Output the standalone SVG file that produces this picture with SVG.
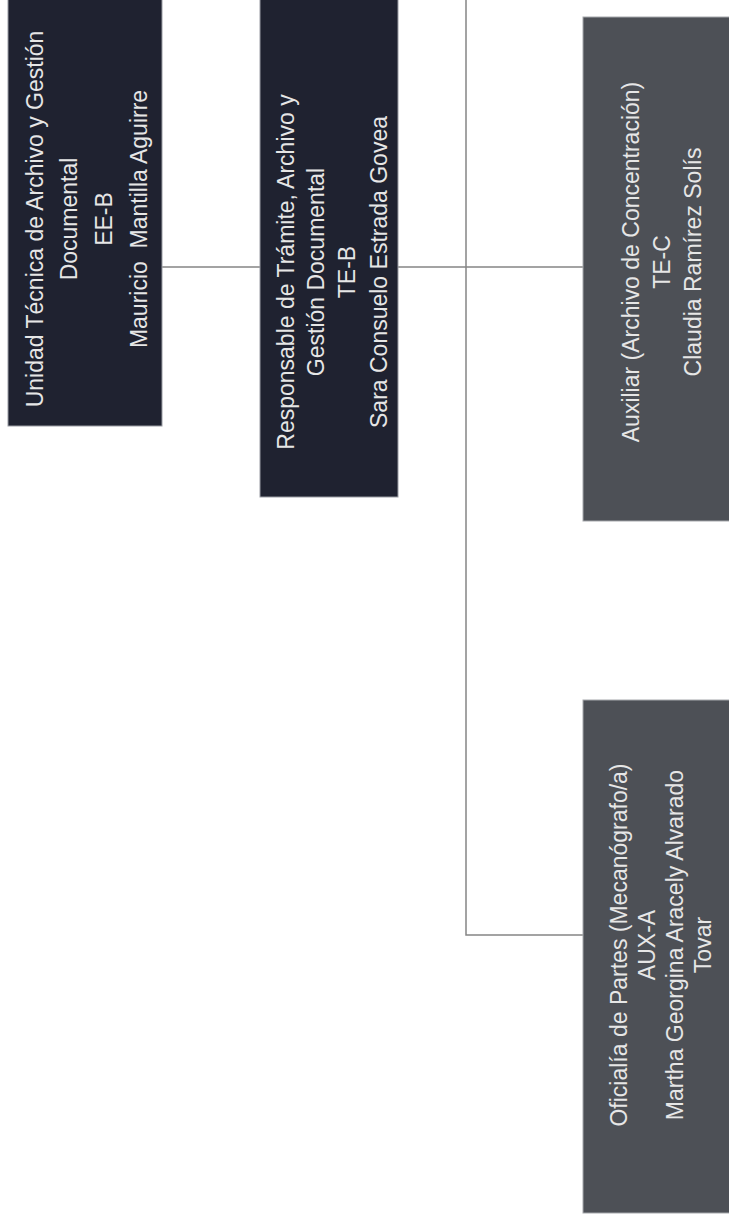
<svg xmlns="http://www.w3.org/2000/svg" width="729" height="1215" viewBox="0 0 729 1215">
<style>
.dark{fill:#1f2230;stroke:#9a9ca3;stroke-width:1}
.gray{fill:#4d5056;stroke:#a5a7ab;stroke-width:1}
.t{font-family:"Liberation Sans",Arial,sans-serif;font-size:23px;fill:#e6e6e6;text-anchor:middle}
.c{stroke:#858585;stroke-width:1.5;fill:none}
</style>
<rect width="729" height="1215" fill="#ffffff"/>
<g id="connectors">
<line class="c" x1="162" y1="267" x2="260" y2="267"/>
<line class="c" x1="398" y1="267" x2="583" y2="267"/>
<polyline class="c" points="466,0 466,935 583,935"/>
</g>
<g id="unidad">
<rect class="dark" x="8" y="-2" width="154" height="428"/>
<g transform="translate(0,219) rotate(-90)">
<text class="t" x="0" y="43">Unidad Técnica de Archivo y Gestión</text>
<text class="t" x="0" y="77">Documental</text>
<text class="t" x="0" y="112">EE-B</text>
<text class="t" x="0" y="147" xml:space="preserve">Mauricio  Mantilla Aguirre</text>
</g>
</g>
<g id="responsable">
<rect class="dark" x="260" y="-2" width="138" height="499"/>
<g transform="translate(0,272) rotate(-90)">
<text class="t" x="0" y="294">Responsable de Trámite, Archivo y</text>
<text class="t" x="0" y="324">Gestión Documental</text>
<text class="t" x="0" y="355">TE-B</text>
<text class="t" x="0" y="387">Sara Consuelo Estrada Govea</text>
</g>
</g>
<g id="auxiliar">
<rect class="gray" x="583" y="17" width="148" height="504"/>
<g transform="translate(0,262) rotate(-90)">
<text class="t" x="0" y="639">Auxiliar (Archivo de Concentración)</text>
<text class="t" x="0" y="670">TE-C</text>
<text class="t" x="0" y="701">Claudia Ramírez Solís</text>
</g>
</g>
<g id="oficialia">
<rect class="gray" x="583" y="700" width="148" height="513"/>
<g transform="translate(0,945) rotate(-90)">
<text class="t" x="0" y="627">Oficialía de Partes (Mecanógrafo/a)</text>
<text class="t" x="0" y="655">AUX-A</text>
<text class="t" x="0" y="683">Martha Georgina Aracely Alvarado</text>
<text class="t" x="0" y="711">Tovar</text>
</g>
</g>
</svg>
